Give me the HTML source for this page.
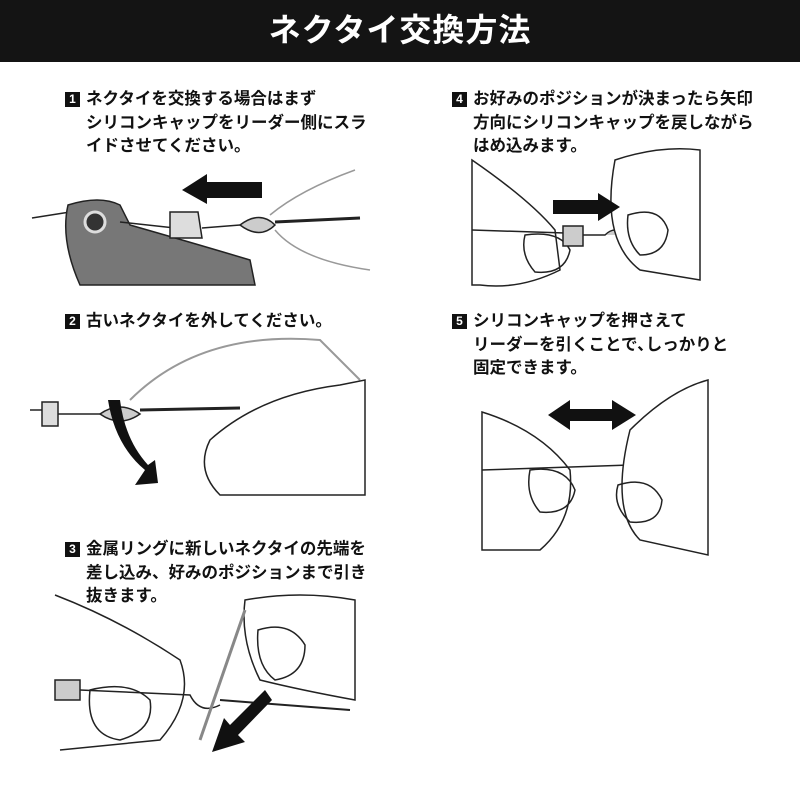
<!DOCTYPE html>
<html><head><meta charset="utf-8"><style>
body{margin:0;width:800px;height:800px;background:#fff;position:relative;overflow:hidden;font-family:"Liberation Sans","Noto Sans CJK JP",sans-serif}
.hd{position:absolute;left:0;top:0;width:800px;height:62px;background:#141414;color:#fff;font-weight:bold;font-size:32px;text-align:center;line-height:60px;letter-spacing:1px}
.t{position:absolute;font-weight:bold;font-size:16.5px;line-height:23.5px;color:#111;white-space:nowrap}
.n{display:inline-block;width:15px;height:15px;background:#111;color:#fff;font-size:12px;line-height:15px;text-align:center;margin-right:6px;vertical-align:1px}
.i{padding-left:21px}
svg{position:absolute;left:0;top:0}
</style></head><body>
<div class="hd">ネクタイ交換方法</div>
<div class="t" style="left:65px;top:88px"><span class="n">1</span>ネクタイを交換する場合はまず<br><span class="i">シリコンキャップをリーダー側にスラ</span><br><span class="i">イドさせてください。</span></div>
<div class="t" style="left:65px;top:310px"><span class="n">2</span>古いネクタイを外してください。</div>
<div class="t" style="left:65px;top:538px"><span class="n">3</span>金属リングに新しいネクタイの先端を<br><span class="i">差し込み、好みのポジションまで引き</span><br><span class="i">抜きます。</span></div>
<div class="t" style="left:452px;top:88px"><span class="n">4</span>お好みのポジションが決まったら矢印<br><span class="i">方向にシリコンキャップを戻しながら</span><br><span class="i">はめ込みます。</span></div>
<div class="t" style="left:452px;top:310px"><span class="n">5</span>シリコンキャップを押さえて<br><span class="i">リーダーを引くことで､しっかりと</span><br><span class="i">固定できます。</span></div>
<svg width="800" height="800" fill="none" stroke="#222" stroke-width="1.5">
<!-- step1 -->
<path d="M32 218 L70 212" />
<path d="M68 205 Q100 195 120 205 L130 225 Q200 245 250 260 L255 285 L80 285 Q60 240 68 205Z" fill="#777"/>
<circle cx="95" cy="222" r="10" fill="#333" stroke="#ddd" stroke-width="3"/>
<path d="M120 222 L175 228"/>
<path d="M170 212 L198 212 L202 238 L170 238Z" fill="#ddd"/>
<path d="M202 228 L240 225"/>
<path d="M240 225 Q260 210 275 225 Q260 240 240 225Z" fill="#ccc"/>
<path d="M275 222 L360 218" stroke-width="3"/>
<path d="M270 215 Q300 190 355 170 M275 230 Q300 260 370 270" stroke="#999"/>
<path d="M262 182 L207 182 L207 174 L182 190 L207 204 L207 198 L262 198Z" fill="#111" stroke="none"/>
<!-- step2 -->
<path d="M30 410 L45 410" />
<rect x="42" y="402" width="16" height="24" fill="#ddd"/>
<path d="M58 414 L100 414"/>
<path d="M100 414 Q120 400 140 414 Q120 428 100 414Z" fill="#ccc"/>
<path d="M140 410 L240 408" stroke-width="3"/>
<path d="M130 400 Q200 330 320 340 L360 380 M215 445 L365 430" stroke="#999" stroke-width="2"/>
<path d="M210 440 Q260 395 340 385 L365 380 L365 495 L220 495 Q195 470 210 440Z" fill="#fff"/>
<path d="M108 400 Q115 445 145 470 L135 485 L158 483 L155 460 L148 465 Q125 440 120 400Z" fill="#111" stroke="none"/>
<!-- step3 -->
<path d="M55 595 Q120 620 180 660 Q195 700 160 740 L60 750" fill="#fff"/>
<path d="M90 690 Q130 680 150 700 Q155 730 120 740 Q85 735 90 690Z"/>
<rect x="55" y="680" width="25" height="20" fill="#ccc"/>
<path d="M80 690 L190 695 Q200 715 220 705"/>
<path d="M220 700 L350 710" stroke-width="2"/>
<path d="M245 600 Q300 590 355 600 L355 700 Q300 690 260 680 Q240 640 245 600Z" fill="#fff"/>
<path d="M258 630 Q290 620 305 645 Q305 675 275 680 Q255 665 258 630Z"/>
<path d="M245 610 L200 740" stroke="#888" stroke-width="3"/>
<path d="M265 690 L230 725 L224 718 L212 752 L245 742 L238 735 L272 700Z" fill="#111" stroke="none"/>
<!-- step4 -->
<path d="M472 160 Q530 200 555 230 L560 270 Q520 290 480 285 L472 285Z" fill="#fff"/>
<path d="M525 235 Q560 230 570 250 Q565 275 535 272 Q520 255 525 235Z"/>
<path d="M472 230 L565 233" />
<rect x="563" y="226" width="20" height="20" fill="#ccc"/>
<path d="M583 235 L605 235 Q615 225 625 235" fill="#ccc"/>
<path d="M615 160 Q660 145 700 150 L700 280 L640 270 Q600 240 615 160Z" fill="#fff"/>
<path d="M628 215 Q660 205 668 230 Q665 255 640 255 Q625 240 628 215Z"/>
<path d="M553 200 L598 200 L598 193 L620 207 L598 221 L598 214 L553 214Z" fill="#111" stroke="none"/>
<!-- step5 -->
<path d="M482 412 Q540 430 570 470 Q575 520 540 550 L482 550Z" fill="#fff"/>
<path d="M530 470 Q565 465 575 490 Q570 515 540 512 Q525 495 530 470Z"/>
<path d="M482 470 L630 465"/>
<rect x="630" y="452" width="24" height="22" fill="#ccc"/>
<path d="M654 460 L705 455 M654 468 L705 475" stroke-width="2"/>
<path d="M630 430 Q670 390 708 380 L708 555 L640 540 Q610 510 630 430Z" fill="#fff"/>
<path d="M618 485 Q650 475 662 500 Q660 525 630 522 Q612 505 618 485Z"/>
<path d="M548 415 L570 400 L570 409 L612 409 L612 400 L636 415 L612 430 L612 421 L570 421 L570 430Z" fill="#111" stroke="none"/>
</svg>
</body></html>
